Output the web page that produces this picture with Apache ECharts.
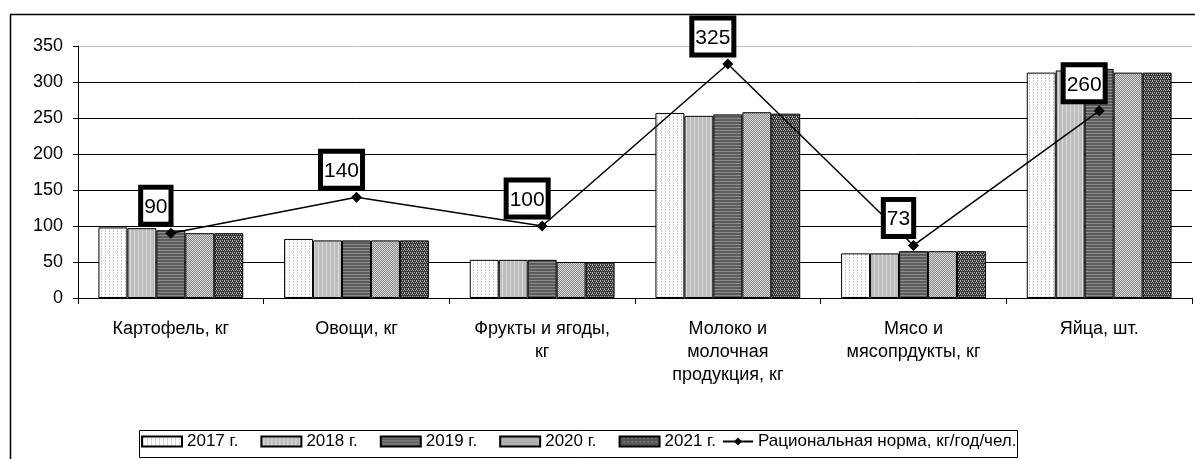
<!DOCTYPE html>
<html>
<head>
<meta charset="utf-8">
<script src="https://cdn.jsdelivr.net/npm/echarts@6/dist/echarts.min.js"></script>
<style>
html,body{margin:0;padding:0;background:#fff;}
#c{width:1195px;height:459px;}
</style>
</head>
<body>
<div id="c"></div>
<script>
var categories = ['Картофель, кг', 'Овощи, кг', 'Фрукты и ягоды,\nкг', 'Молоко и\nмолочная\nпродукция, кг', 'Мясо и\nмясопрдукты, кг', 'Яйца, шт.'];
var seriesNames = ['2017 г.', '2018 г.', '2019 г.', '2020 г.', '2021 г.'];
var y2017 = [98, 82, 53, 257, 62, 313];
var y2018 = [97, 80, 53, 253, 62, 316];
var y2019 = [94, 80, 53, 255, 65, 318];
var y2020 = [90, 80, 50, 258, 65, 313];
var y2021 = [90, 80, 50, 256, 65, 313];
var normName = 'Рациональная норма, кг/год/чел.';
var norm = [90, 140, 100, 325, 73, 260];
var yTicks = [0, 50, 100, 150, 200, 250, 300, 350];

function pattern(w, h, bg, fg, pts) {
  var c = document.createElement('canvas');
  c.width = w; c.height = h;
  var g = c.getContext('2d');
  g.fillStyle = bg; g.fillRect(0, 0, w, h);
  g.fillStyle = fg;
  pts.forEach(function (p) { g.fillRect(p[0], p[1], p[2] || 1, p[3] || 1); });
  return { image: c, repeat: 'repeat' };
}
var fills = [
  pattern(4, 3, '#ffffff', '#c8c8c8', [[1, 0], [1, 2]]),
  pattern(4, 2, '#bdbdbd', '#dcdcdc', [[2, 0, 1, 2]]),
  pattern(3, 3, '#5c5c5c', '#8c8c8c', [[0, 1, 3, 1]]),
  pattern(2, 2, '#8a8a8a', '#d6d6d6', [[0, 0], [1, 1]]),
  pattern(4, 4, '#3a3a3a', '#a8a8a8', [[0, 0], [2, 0], [1, 2], [3, 2], [0, 1]])
];
var yearData = [y2017, y2018, y2019, y2020, y2021];
var FONT = 'Liberation Sans, Arial, sans-serif';

var series = yearData.map(function (d, i) {
  return {
    name: seriesNames[i], type: 'bar', data: d,
    barGap: '0%', barCategoryGap: '22%',
    itemStyle: { color: fills[i], borderColor: '#000', borderWidth: 1 },
    emphasis: { disabled: true }
  };
});
series.push({
  name: normName, type: 'line', data: norm, z: 5,
  symbol: 'diamond', symbolSize: 11,
  lineStyle: { color: '#000', width: 1.5 },
  itemStyle: { color: '#000' },
  label: {
    show: true, position: 'top', distance: 6, offset: [-15, 0],
    fontSize: 21, fontFamily: FONT, color: '#000',
    backgroundColor: '#fff', borderColor: '#000', borderWidth: 5,
    padding: [7, 1, 4, 1]
  },
  emphasis: { disabled: true }
});

var chart = echarts.init(document.getElementById('c'), null, { renderer: 'canvas' });
chart.setOption({
  animation: false,
  backgroundColor: '#fff',
  textStyle: { fontFamily: FONT },
  graphic: [{
    type: 'rect', left: 8, top: 12, z: -1,
    shape: { width: 1300, height: 500 },
    style: { fill: 'none', stroke: '#000', lineWidth: 1.5 }
  }, {
    type: 'rect', left: 137, top: 428, z: 1,
    shape: { width: 878, height: 27 },
    style: { fill: 'none', stroke: '#000', lineWidth: 1 }
  }],
  grid: { left: 78, right: 3, top: 46, bottom: 161, containLabel: false },
  legend: [{
    left: 136, top: 428, icon: 'rect',
    padding: [5, 5], itemGap: 22, itemWidth: 40, itemHeight: 10,
    textStyle: { fontSize: 17, color: '#000', fontFamily: FONT },
    data: seriesNames
  }, {
    left: 722, top: 428,
    padding: [5, 0], itemWidth: 30, itemHeight: 10,
    textStyle: { fontSize: 17, color: '#000', fontFamily: FONT },
    data: [normName]
  }],
  xAxis: {
    type: 'category', data: categories,
    axisLine: { lineStyle: { color: '#000', width: 1 } },
    axisTick: { show: true, length: 6, lineStyle: { color: '#000' } },
    axisLabel: { fontSize: 18, color: '#000', lineHeight: 23, margin: 20, interval: 0, fontFamily: FONT }
  },
  yAxis: {
    type: 'value', min: yTicks[0], max: yTicks[yTicks.length - 1], interval: 50,
    axisLine: { show: true, lineStyle: { color: '#000', width: 1 } },
    axisTick: { show: true, length: 5, lineStyle: { color: '#000' } },
    axisLabel: { fontSize: 18, color: '#000', margin: 15, fontFamily: FONT },
    splitLine: { show: true, lineStyle: { color: ['#000', '#000', '#000', '#000', '#000', '#000', '#000', '#bbb'], width: 1 } }
  },
  series: series
});
</script>
</body>
</html>
